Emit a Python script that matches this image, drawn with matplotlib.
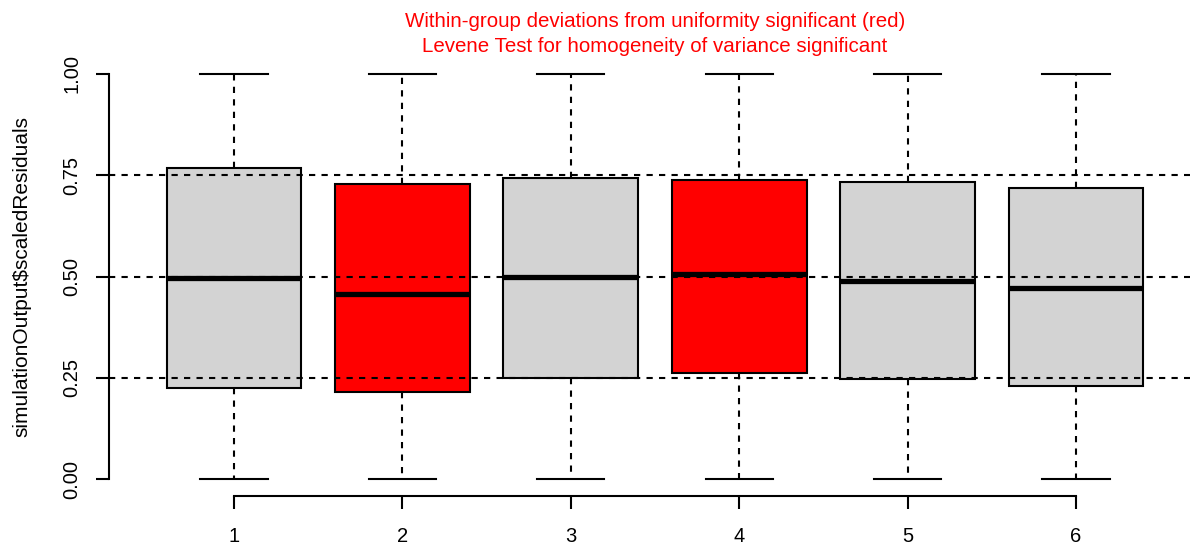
import matplotlib
matplotlib.use("Agg")
import matplotlib.pyplot as plt

plt.rcParams['font.family'] = ['Liberation Sans', 'DejaVu Sans']

# Werte
groups = ['1', '2', '3', '4', '5', '6']
q1 = [0.226, 0.215, 0.251, 0.263, 0.247, 0.230]
med = [0.496, 0.458, 0.498, 0.506, 0.490, 0.472]
q3 = [0.768, 0.729, 0.742, 0.737, 0.733, 0.718]
whislo = [0.0, 0.0, 0.0, 0.0, 0.0, 0.0]
whishi = [1.0, 1.0, 1.0, 1.0, 1.0, 1.0]
significant = [False, True, False, True, False, False]
ref_lines = [0.25, 0.5, 0.75]
yticks = [0.0, 0.25, 0.5, 0.75, 1.0]
ylabels = ['0.00', '0.25', '0.50', '0.75', '1.00']

title1 = "Within-group deviations from uniformity significant (red)"
title2 = "Levene Test for homogeneity of variance significant"

fig = plt.figure(figsize=(11.9, 5.5), dpi=100)
W, H = 1190, 550
# Plotregion wie in R (mit 4% Erweiterung)
x0, x1, ytop, ybot = 109.4, 1200.6, 57.3, 495.7
ax = fig.add_axes([x0 / W, 1 - ybot / H, (x1 - x0) / W, (ybot - ytop) / H])

stats = []
for i in range(len(groups)):
    stats.append({'med': med[i], 'q1': q1[i], 'q3': q3[i],
                  'whislo': whislo[i], 'whishi': whishi[i],
                  'fliers': [], 'label': groups[i]})

pos = list(range(1, len(groups) + 1))
bp = ax.bxp(stats, positions=pos, widths=0.8, capwidths=0.4,
            showfliers=False, patch_artist=True,
            boxprops=dict(linewidth=1.5, edgecolor='black'),
            medianprops=dict(linewidth=3.8, color='black', solid_capstyle='butt'),
            whiskerprops=dict(linewidth=1.5, linestyle=(0, (3, 3)), color='black'),
            capprops=dict(linewidth=1.5, color='black'))
for patch, sig in zip(bp['boxes'], significant):
    patch.set_facecolor('#FF0000' if sig else '#D3D3D3')

for h in ref_lines:
    ax.axhline(h, color='black', linewidth=1.5, linestyle=(0, (3, 3)), zorder=5)

ax.set_xlim(0.26, 6.74)
ax.set_ylim(-0.04, 1.04)

for s in ['top', 'right']:
    ax.spines[s].set_visible(False)
ax.spines['left'].set_bounds(0, 1)
ax.spines['bottom'].set_bounds(1, 6)
ax.spines['left'].set_linewidth(1.5)
ax.spines['bottom'].set_linewidth(1.5)

ax.set_xticks(pos)
ax.set_xticklabels(groups)
ax.set_yticks(yticks)
ax.set_yticklabels(ylabels, rotation=90, va='center')
ax.tick_params(axis='both', direction='out', length=9.5, width=1.5, labelsize=14.5)
ax.tick_params(axis='x', pad=13)
ax.tick_params(axis='y', pad=10.5)

fig.text(22 / W, 1 - 276.5 / H, "simulationOutput$scaledResiduals", rotation=90,
         ha='center', va='center', fontsize=15)

cx = (x0 + x1) / 2 / W
fig.text(cx, 1 - 27 / H, title1, ha='center', va='baseline', fontsize=14.8, color='#FF0000')
fig.text(cx, 1 - 52 / H, title2, ha='center', va='baseline', fontsize=14.8, color='#FF0000')

fig.savefig('out.png', dpi=100)
